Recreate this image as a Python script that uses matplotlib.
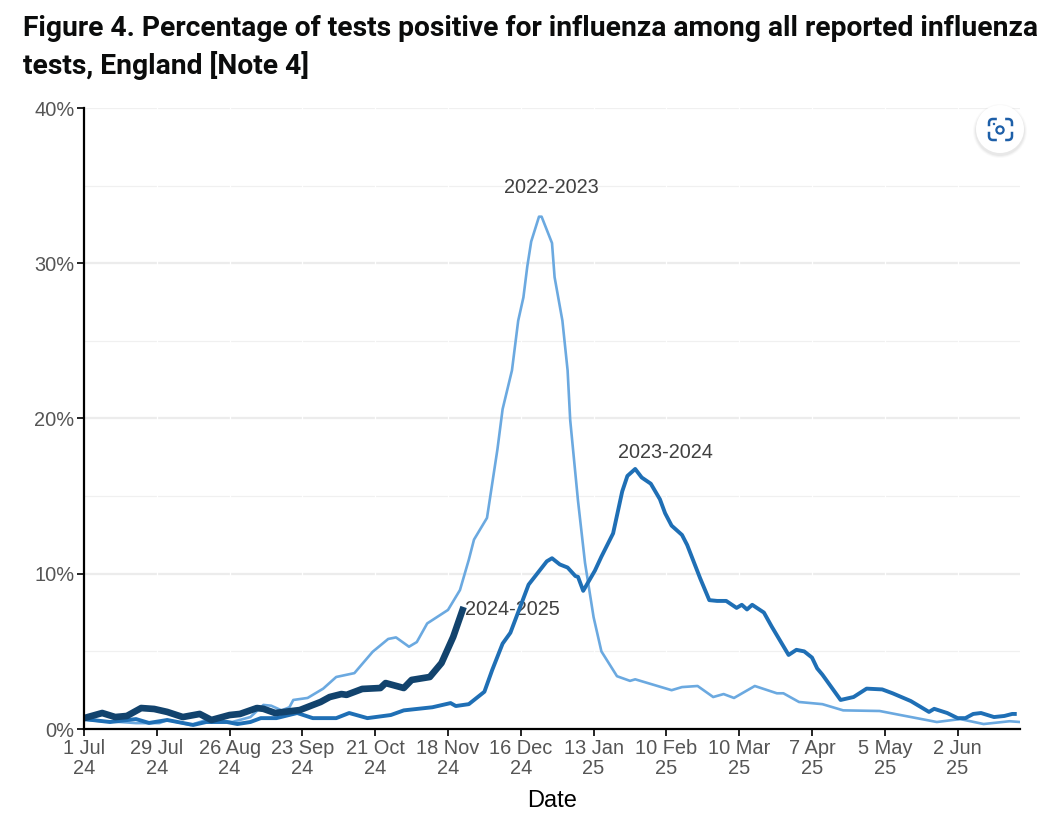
import matplotlib
matplotlib.use("Agg")
import matplotlib.pyplot as plt
from matplotlib.patches import Circle, FancyBboxPatch

# days since 1 Jul, percent positive
days_2223 = [0, 7, 14, 20, 29, 32, 41, 47, 57, 64, 69, 72, 76, 79, 80.5, 86, 92, 97, 104, 111, 117, 120, 125,
             128, 132, 140, 144.6, 148, 150, 155, 159, 161, 164.6, 167, 169, 170.5, 172, 175, 176, 180, 181, 184,
             186, 187, 190, 192.7, 196, 199, 205, 210, 212, 217, 226, 230, 236, 242, 246, 250, 258, 266.5, 269,
             275, 284, 292, 306, 314, 324, 328, 337, 346, 356, 360]
vals_2223 = [0.6, 0.5, 0.45, 0.38, 0.38, 0.58, 0.26, 0.58, 0.45, 0.77, 1.55, 1.5, 1.2, 1.4, 1.87, 2.0, 2.6, 3.35,
             3.6, 4.97, 5.8, 5.9, 5.3, 5.6, 6.8, 7.67, 8.95, 10.9, 12.2, 13.6, 18.0, 20.6, 23.1, 26.3, 27.8, 29.8,
             31.4, 33.0, 33.0, 31.3, 29.1, 26.3, 23.1, 19.9, 14.7, 10.7, 7.2, 5.0, 3.4, 3.1, 3.2, 2.95, 2.5, 2.7,
             2.77, 2.06, 2.25, 2.0, 2.77, 2.3, 2.3, 1.74, 1.6, 1.2, 1.16, 0.9, 0.58, 0.45, 0.64, 0.32, 0.5, 0.45]

days_2324 = [0, 10, 20, 25, 32, 42, 47, 55, 59, 64, 68, 74, 82, 88, 97, 102, 109, 118, 123, 134, 141, 143, 148,
             154, 157, 161, 164, 171, 178, 180, 183, 186, 189, 190, 192, 196.5, 199, 203.5, 207, 209, 212,
             214.5, 218, 221.5, 223.5, 226, 230, 232, 237, 240.5, 243.5, 247, 251, 253, 255, 257, 261.5,
             264.5, 271, 274, 277, 280, 282, 284, 291, 296, 301, 307, 311, 318, 325, 327, 332, 336, 339, 342,
             345, 350, 354, 357, 358]
vals_2324 = [0.64, 0.45, 0.64, 0.39, 0.58, 0.26, 0.45, 0.45, 0.32, 0.45, 0.7, 0.7, 1.03, 0.7, 0.7, 1.03, 0.7, 0.9,
             1.2, 1.4, 1.67, 1.48, 1.6, 2.4, 3.8, 5.5, 6.2, 9.3, 10.8, 11.0, 10.6, 10.4, 9.85, 9.8, 8.9, 10.2,
             11.1, 12.6, 15.3, 16.3, 16.75, 16.2, 15.8, 14.8, 13.9, 13.1, 12.5, 11.85, 9.7, 8.3, 8.25, 8.25,
             7.8, 8.0, 7.7, 8.0, 7.5, 6.6, 4.77, 5.1, 5.0, 4.6, 3.9, 3.5, 1.87, 2.06, 2.6, 2.55, 2.3, 1.8, 1.1,
             1.3, 1.03, 0.7, 0.7, 0.97, 1.03, 0.77, 0.84, 0.97, 0.97]

days_2425 = [0, 7, 12, 16.5, 22, 27, 32, 38, 44.5, 49, 56, 60, 66.5, 69, 73.5, 83, 91, 94.5, 99, 101, 107, 114,
             116, 123, 126, 133, 137.5, 142, 146]
vals_2425 = [0.7, 1.03, 0.77, 0.84, 1.35, 1.29, 1.1, 0.77, 0.97, 0.58, 0.9, 0.97, 1.35, 1.3, 1.03, 1.22, 1.74,
             2.06, 2.25, 2.2, 2.58, 2.64, 2.96, 2.64, 3.16, 3.35, 4.25, 5.93, 7.86]

tick_days = [0, 28, 56, 84, 112, 140, 168, 196, 224, 252, 280, 308, 336]
tick_labels = ["1 Jul\n24", "29 Jul\n24", "26 Aug\n24", "23 Sep\n24", "21 Oct\n24", "18 Nov\n24", "16 Dec\n24",
               "13 Jan\n25", "10 Feb\n25", "10 Mar\n25", "7 Apr\n25", "5 May\n25", "2 Jun\n25"]

W, H = 1061, 813
fig = plt.figure(figsize=(W / 100, H / 100), dpi=100)
ax = fig.add_axes([84 / W, 1 - 729 / H, (1020 - 84) / W, (729 - 108) / H])

# gridlines, broken by thin white lines at the date ticks
for y in [10, 20, 30]:
    ax.axhline(y, color="#ececec", lw=1.6, zorder=1)
for y in [5, 15, 25, 35, 40]:
    ax.axhline(y, color="#f0f0f0", lw=0.9, zorder=1)
for d in tick_days[1:]:
    ax.axvline(d, color="white", lw=0.9, zorder=1.5)

ax.plot(days_2223, vals_2223, color="#6ba9e0", lw=1.9, zorder=3)
ax.plot(days_2324, vals_2324, color="#1f6fb5", lw=2.8, zorder=4)
ax.plot(days_2425, vals_2425, color="#12436d", lw=4.8, zorder=5, solid_capstyle="butt", solid_joinstyle="round")

ax.set_xlim(0, 360)
ax.set_ylim(0, 40)
ax.set_xticks(tick_days)
ax.set_xticklabels(tick_labels, linespacing=1.03)
ax.set_yticks([0, 10, 20, 30, 40])
ax.set_yticklabels(["0%", "10%", "20%", "30%", "40%"])
ax.tick_params(axis="both", colors="#555555", labelsize=14.4, width=1.2, length=5,
               labelfontfamily="Liberation Sans")
ax.tick_params(axis="both", color="black")
ax.tick_params(axis="x", pad=2.5)
ax.tick_params(axis="y", pad=2)

for side in ["top", "right"]:
    ax.spines[side].set_visible(False)
for side in ["left", "bottom"]:
    ax.spines[side].set_linewidth(1.6)
    ax.spines[side].set_color("black")
    ax.spines[side].set_zorder(6)

ax.text(161.5, 34.25, "2022-2023", fontsize=14.3, family="Liberation Sans", color="#404040", va="bottom")
ax.text(205.5, 17.2, "2023-2024", fontsize=14.3, family="Liberation Sans", color="#404040", va="bottom")
ax.text(146.5, 7.7, "2024-2025", fontsize=14.3, family="Liberation Sans", color="#404040", va="center")

fig.text(552 / W, 1 - 801 / H, "Date", fontsize=17, family="Liberation Sans", color="black", ha="center", va="center")

fig.text(23 / W, 1 - 29 / H, "Figure 4. Percentage of tests positive for influenza among all reported influenza",
         fontsize=20.3, fontweight="bold", family="Roboto", color="#0b0c0c", va="center")
fig.text(23 / W, 1 - 65 / H, "tests, England [Note 4]",
         fontsize=20.3, fontweight="bold", family="Roboto", color="#0b0c0c", va="center")

# camera button in the top right corner
btn = fig.add_axes([0, 0, 1, 1], facecolor="none")
btn.set_xlim(0, W)
btn.set_ylim(H, 0)
btn.axis("off")
for r, a in [(27, 0.02), (26, 0.03), (25, 0.04)]:
    btn.add_patch(Circle((1000, 131), r, color="black", alpha=a, lw=0))
btn.add_patch(Circle((1000, 129), 24, color="white", lw=0))
btn.add_patch(FancyBboxPatch((989, 119), 23, 21, boxstyle="round,pad=0,rounding_size=4",
                             fc="none", ec="#1d5fa8", lw=1.8))
btn.plot([1000.5, 1000.5], [116, 143], color="white", lw=6, solid_capstyle="butt")
btn.plot([986, 1015], [129.5, 129.5], color="white", lw=4, solid_capstyle="butt")
btn.add_patch(Circle((1000, 130), 3.6, fc="none", ec="#1d5fa8", lw=1.6, zorder=5))
btn.add_patch(Circle((994, 124), 1.2, color="#1d5fa8", lw=0, zorder=5))

fig.savefig("out.png", dpi=100)
